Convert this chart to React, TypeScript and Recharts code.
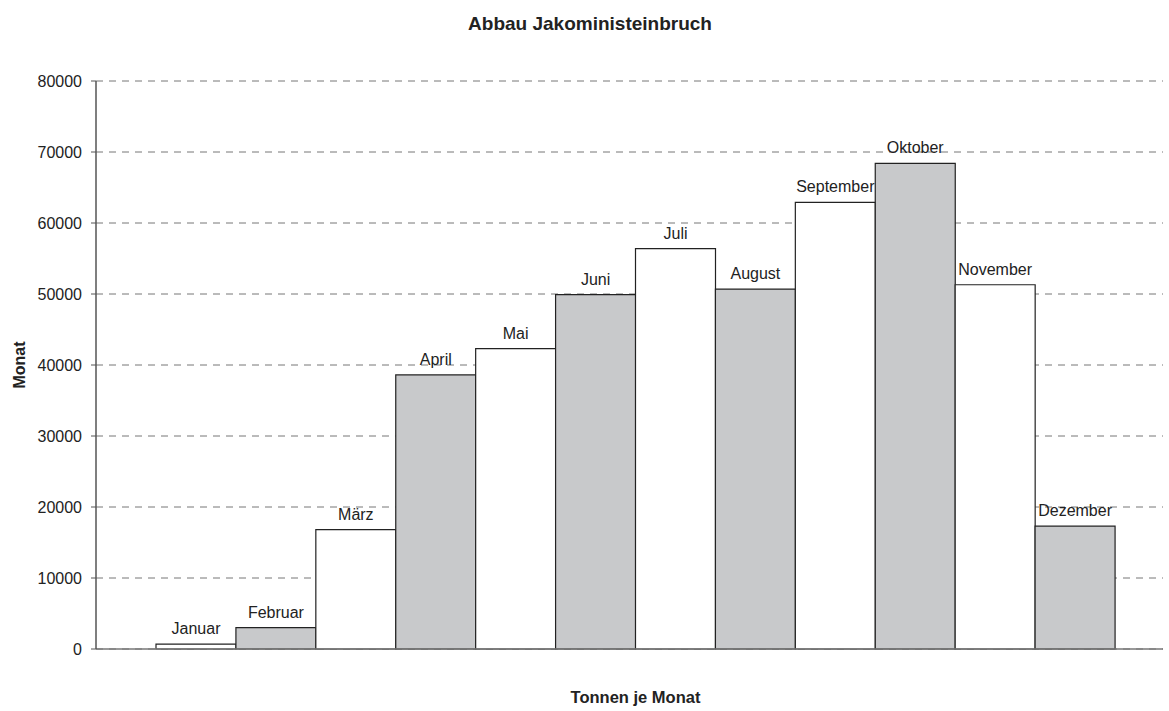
import React from "react";
import { BarChart, Bar, XAxis, YAxis, CartesianGrid, Cell, LabelList, Label } from "recharts";

const months = ["Januar", "Februar", "März", "April", "Mai", "Juni", "Juli", "August", "September", "Oktober", "November", "Dezember"];
const tonnes = [700, 3000, 16800, 38600, 42300, 49900, 56400, 50700, 62900, 68400, 51300, 17300];
const yTicks = [0, 10000, 20000, 30000, 40000, 50000, 60000, 70000, 80000];

const data = months.map((m, i) => ({ month: m, value: tonnes[i] }));

const FONT = "'Liberation Sans', Arial, sans-serif";
const W = 1169;
const H = 711;

const YTitle = (props: any) => {
  const vb = props.viewBox || {};
  const cx = (vb.x || 0) + 19.5;
  const cy = (vb.y || 0) + (vb.height || 0) / 2;
  return (
    <text
      x={cx}
      y={cy}
      transform={`rotate(-90 ${cx} ${cy})`}
      textAnchor="middle"
      dominantBaseline="central"
      fontFamily={FONT}
      fontSize={16}
      fontWeight="bold"
      fill="#222"
    >
      Monat
    </text>
  );
};

export default function App() {
  return (
    <div style={{ position: "absolute", left: 0, top: 0, width: W, height: H, background: "#fff" }}>
      <BarChart
        width={W}
        height={H}
        data={data}
        margin={{ top: 81, right: 6, bottom: 0, left: 0 }}
        barCategoryGap={0}
        style={{ fontFamily: FONT }}
      >
        <CartesianGrid vertical={false} strokeDasharray="7 6" stroke="#777" strokeWidth={1} />
        <XAxis
          dataKey="month"
          height={62}
          tick={false}
          tickLine={false}
          axisLine={{ stroke: "#777", strokeWidth: 1.5 }}
          padding={{ left: 60, right: 48 }}
        >
          <Label
            value="Tonnen je Monat"
            position="insideBottom"
            offset={8}
            dx={6}
            style={{ fontFamily: FONT, fontSize: 16.5, fontWeight: "bold", fill: "#222" }}
          />
        </XAxis>
        <YAxis
          width={96}
          domain={[0, 80000]}
          ticks={yTicks}
          interval={0}
          tickSize={5}
          tickMargin={9}
          tick={{ fontFamily: FONT, fontSize: 16, fill: "#222" }}
          tickLine={{ stroke: "#555" }}
          axisLine={{ stroke: "#555", strokeWidth: 1.5 }}
        >
          <Label content={<YTitle />} />
        </YAxis>
        <Bar dataKey="value" stroke="#222" strokeWidth={1.2} isAnimationActive={false}>
          {data.map((d, i) => (
            <Cell key={d.month} fill={i % 2 === 0 ? "#ffffff" : "#c8c9cb"} />
          ))}
          <LabelList
            dataKey="month"
            position="top"
            offset={10}
            style={{ fontFamily: FONT, fontSize: 16, fill: "#222" }}
          />
        </Bar>
      </BarChart>
      <svg width={W} height={H} style={{ position: "absolute", left: 0, top: 0, pointerEvents: "none" }}>
        <text x={590} y={30} textAnchor="middle" fontFamily={FONT} fontSize={19} fontWeight="bold" fill="#222">
          Abbau Jakoministeinbruch
        </text>
      </svg>
    </div>
  );
}
